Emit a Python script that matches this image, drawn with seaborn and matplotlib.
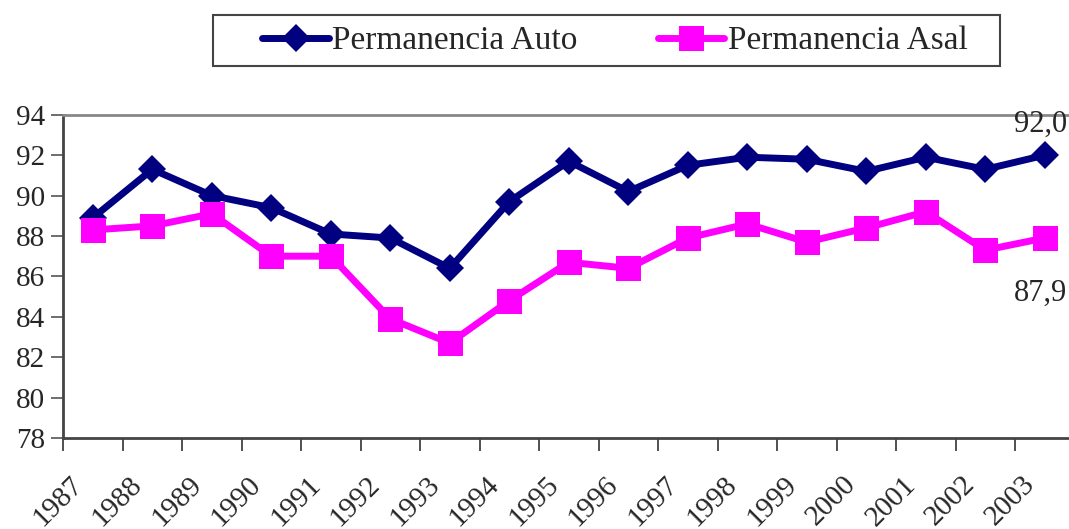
import numpy as np
import pandas as pd
import seaborn as sns
import matplotlib.pyplot as plt
import matplotlib.transforms as mtransforms
from matplotlib.patches import Rectangle

years = [str(y) for y in range(1987, 2004)]
auto = [88.9, 91.3, 90.0, 89.4, 88.1, 87.9, 86.4, 89.7, 91.7, 90.2,
        91.5, 91.9, 91.8, 91.2, 91.9, 91.3, 92.0]
asal = [88.3, 88.5, 89.1, 87.0, 87.0, 83.9, 82.7, 84.8, 86.7, 86.4,
        87.9, 88.6, 87.7, 88.4, 89.2, 87.3, 87.9]

sns.set_style("white")
plt.rcParams["font.family"] = ["Liberation Serif", "DejaVu Serif"]

df = pd.DataFrame({"pos": np.arange(len(years)), "auto": auto, "asal": asal})

fig = plt.figure(figsize=(10.69, 5.29), dpi=100)
ax = fig.add_axes([0.059, 0.172, 0.941, 0.611])

sns.lineplot(data=df, x="pos", y="auto", ax=ax, color="#000080", lw=5,
             marker="D", markersize=14, markeredgewidth=0,
             label="Permanencia Auto")
sns.lineplot(data=df, x="pos", y="asal", ax=ax, color="#FF00FF", lw=5,
             marker="s", markersize=18, markeredgewidth=0,
             label="Permanencia Asal")

ax.set_xlim(-0.5, -0.5 + 1006 / 59.5)
ax.set_ylim(78, 94)
ax.set_yticks(np.arange(78, 95, 2))
ax.tick_params(axis="y", labelsize=21, length=9, width=1.2, color="#555555",
               left=True, pad=4)

ax.set_xticks(np.arange(len(years)))
ax.set_xticklabels(years, rotation=45, ha="right", va="top", fontsize=21)
ax.set_xticks(np.arange(len(years)) - 0.5, minor=True)
ax.tick_params(axis="x", which="major", length=0, pad=24)
ax.tick_params(axis="x", which="minor", length=9, width=1.2, color="#333333",
               bottom=True)
shift = mtransforms.ScaledTranslation(-5 / 100, 0, fig.dpi_scale_trans)
for lab in ax.get_xticklabels():
    lab.set_transform(lab.get_transform() + shift)

ax.set_xlabel("")
ax.set_ylabel("")
for s in ["left", "bottom"]:
    ax.spines[s].set_color("#444444")
    ax.spines[s].set_linewidth(2)
ax.spines["top"].set_color("#888888")
ax.spines["top"].set_linewidth(2)
ax.spines["right"].set_visible(False)

last = len(years) - 1
ax.annotate(f"{auto[last]:.1f}".replace(".", ","), (last, auto[last]),
            xytext=(-3, 22), textcoords="offset points", ha="center",
            va="center", fontsize=22, annotation_clip=False)
ax.annotate(f"{asal[last]:.1f}".replace(".", ","), (last, asal[last]),
            xytext=(-3, -40), textcoords="offset points", ha="center",
            va="center", fontsize=22, annotation_clip=False)

# legend box drawn as a figure rectangle, entries centred inside it
fig.patches.append(Rectangle((213 / 1069, 1 - 66 / 529), 787 / 1069,
                             51 / 529, transform=fig.transFigure,
                             fill=False, edgecolor="#444444", lw=1.5))
ax.legend_.remove()
handles, labels = ax.get_legend_handles_labels()
fig.legend(handles, labels, loc="center", ncol=2, fontsize=24,
           bbox_to_anchor=(615 / 1069, 1 - 41 / 529), frameon=False,
           handlelength=2.0, handletextpad=0.1, columnspacing=2.4,
           borderaxespad=0, borderpad=0, markerscale=1.0)

fig.savefig("out.png", dpi=100)
